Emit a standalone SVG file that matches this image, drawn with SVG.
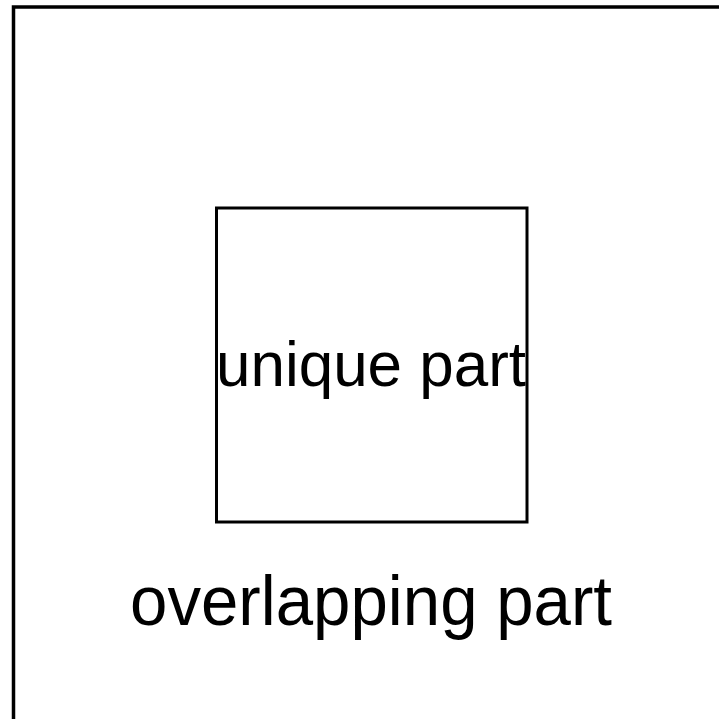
<svg xmlns="http://www.w3.org/2000/svg" width="719" height="719" viewBox="0 0 719 719">
<style>
.box{fill:none;stroke:#000;stroke-width:3.5}
.inner{fill:none;stroke:#000;stroke-width:3}
.lbl{font-family:"Liberation Sans",Arial,sans-serif;fill:#000;text-anchor:middle}
</style>
<rect width="719" height="719" fill="#fff"/>
<g id="overlapping">
<rect class="box" x="13.5" y="7" width="800" height="800"/>
<text class="lbl" x="371" y="625" font-size="71" textLength="482" lengthAdjust="spacingAndGlyphs">overlapping part</text>
</g>
<g id="unique">
<rect class="inner" x="216.5" y="208" width="310.5" height="314"/>
<text class="lbl" x="371" y="386" font-size="63" textLength="310" lengthAdjust="spacingAndGlyphs">unique part</text>
</g>
<g id="connectors"></g>
</svg>
